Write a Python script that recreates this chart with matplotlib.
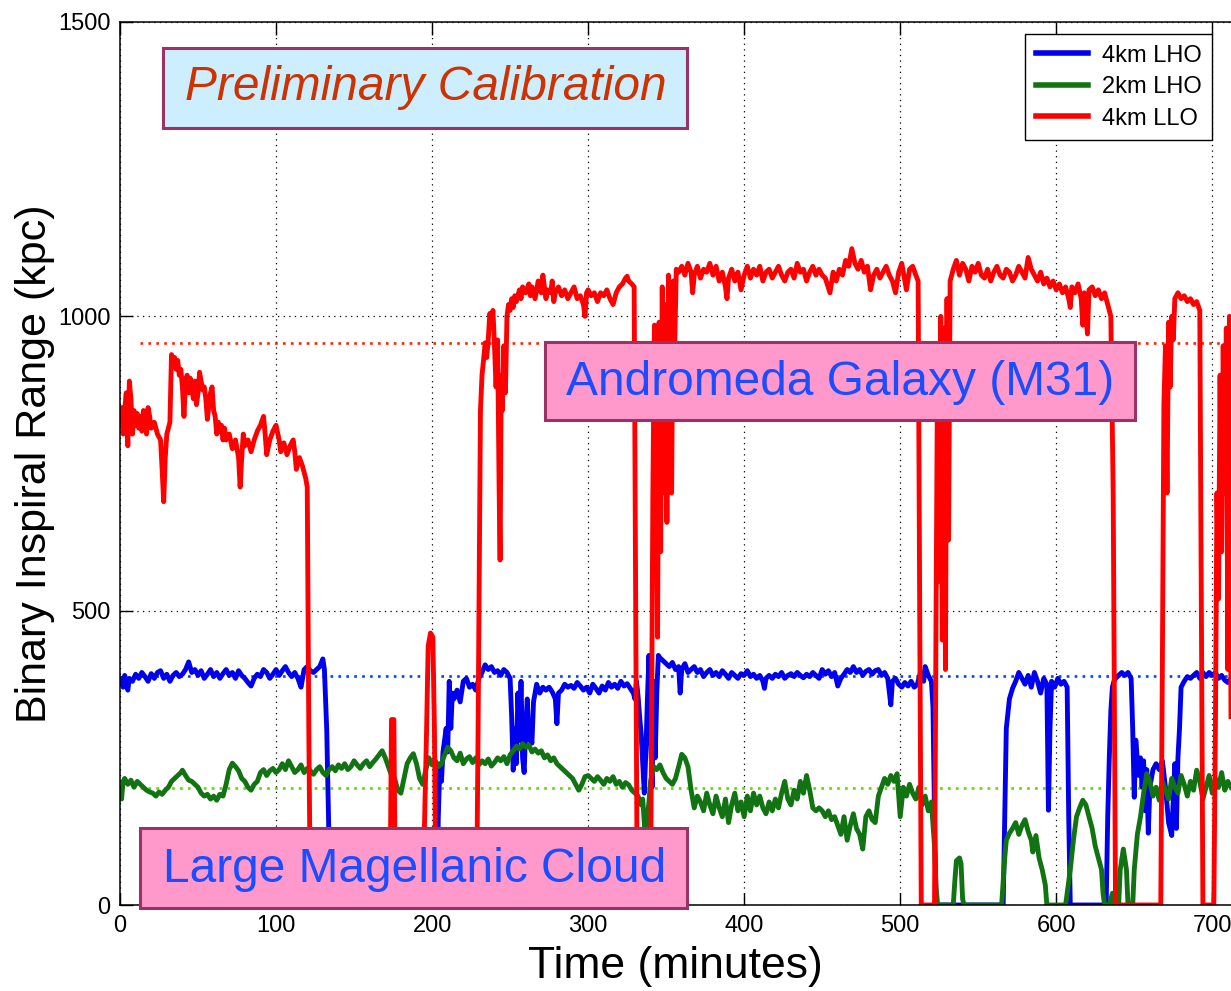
import matplotlib
matplotlib.use("Agg")
import matplotlib.pyplot as plt
from matplotlib.patches import Rectangle
import numpy as np

plt.rcParams['font.family'] = ['Liberation Sans', 'DejaVu Sans']

# ---- data: time (min) and range (kpc) ----
t_lho4 = [0, 1, 2, 3, 4, 5, 6, 8, 10, 12, 14, 16, 18, 20, 22, 24, 26, 28, 30, 32, 34, 36, 38, 40,
          42, 44, 46, 48, 50, 52, 54, 56, 58, 60, 62, 64, 66, 68, 70, 72, 74, 76, 78, 80, 82, 84,
          86, 88, 90, 92, 94, 96, 98, 100, 102, 104, 106, 108, 110, 112, 114, 116, 118, 120, 122,
          124, 126, 128, 130, 131, 132.5, 134, 135, 203, 204, 205, 206, 207, 208, 209, 210, 211,
          212, 213, 214, 216, 218, 220, 222, 224, 226, 228, 230, 232, 234, 236, 238, 240, 242, 244,
          246, 248, 250, 251, 252, 253, 254, 255, 256, 257, 258, 259, 260, 261, 262, 263, 264, 265,
          267, 269, 271, 273, 275, 277, 279, 280, 281, 283, 285, 287, 289, 291, 293, 295, 297, 299,
          301, 303, 305, 307, 309, 311, 313, 315, 317, 319, 321, 323, 325, 327, 329, 330, 331, 332,
          333, 334, 335, 336, 337, 338, 339, 340, 341, 342, 343, 344, 345, 346, 348, 350, 352, 354,
          356, 358, 359, 360, 362, 364, 366, 368, 370, 372, 374, 376, 378, 380, 382, 384, 386, 388,
          390, 392, 394, 396, 398, 400, 402, 404, 406, 408, 410, 412, 413, 414, 416, 418, 420, 422,
          424, 426, 428, 430, 432, 434, 436, 438, 440, 442, 444, 446, 448, 450, 452, 454, 456, 458,
          460, 462, 464, 466, 468, 470, 472, 474, 476, 478, 480, 482, 484, 486, 488, 490, 492, 494,
          495, 497, 499, 501, 503, 505, 507, 509, 511, 513, 515, 516, 518, 520, 521, 522, 523, 566,
          567, 568, 570, 572, 574, 576, 578, 580, 582, 584, 586, 588, 590, 592, 594, 595, 596, 597,
          599, 601, 603, 605, 607, 608, 609, 632, 633, 634, 635, 636, 637, 638, 640, 642, 644, 646,
          648, 649, 650, 651, 652, 653, 654, 655, 656, 657, 658, 659, 660, 662, 664, 666, 668, 670,
          672, 674, 676, 677, 678, 679, 680, 682, 684, 686, 688, 690, 692, 694, 696, 698, 700, 702,
          704, 706, 708, 710, 712]
r_lho4 = [375, 385, 370, 390, 380, 365, 385, 380, 392, 385, 395, 388, 380, 393, 385, 395, 398, 385,
          392, 380, 390, 395, 388, 392, 400, 413, 395, 400, 390, 398, 385, 392, 400, 388, 395, 385,
          393, 400, 390, 395, 385, 398, 390, 385, 378, 372, 385, 392, 388, 400, 395, 385, 392, 400,
          390, 398, 405, 395, 388, 395, 385, 370, 400, 405, 398, 395, 400, 405, 418, 400, 297, 100,
          0, 0, 150, 240, 210, 260, 280, 300, 260, 380, 300, 360, 350, 365, 345, 380, 385, 370, 375,
          365, 385, 395, 408, 400, 405, 395, 398, 390, 400, 395, 385, 320, 229, 300, 240, 360, 280,
          380, 250, 225, 300, 350, 280, 290, 275, 345, 375, 360, 370, 365, 370, 362, 350, 308, 360,
          365, 375, 370, 373, 368, 378, 372, 365, 370, 360, 375, 368, 360, 372, 365, 378, 370, 375,
          368, 380, 372, 376, 368, 360, 350, 380, 355, 320, 290, 240, 190, 260, 350, 424, 300, 200,
          380, 250, 360, 424, 420, 415, 410, 405, 412, 400, 405, 360, 400, 410, 395, 400, 405, 395,
          400, 388, 395, 400, 390, 395, 388, 398, 392, 385, 395, 390, 385, 393, 390, 398, 388, 392,
          385, 390, 380, 368, 385, 390, 385, 392, 388, 395, 385, 390, 393, 388, 395, 390, 386, 392,
          388, 395, 390, 385, 400, 392, 398, 388, 395, 372, 385, 392, 400, 395, 405, 395, 400, 390,
          397, 400, 392, 398, 400, 390, 395, 385, 340, 380, 385, 375, 370, 378, 372, 380, 370, 375,
          395, 380, 405, 390, 380, 337, 150, 0, 0, 150, 300, 350, 368, 380, 395, 385, 375, 390, 370,
          395, 380, 360, 385, 375, 161, 300, 380, 370, 385, 375, 380, 370, 150, 0, 0, 150, 250, 330,
          370, 380, 385, 390, 395, 390, 395, 385, 300, 183, 280, 246, 220, 250, 200, 245, 160, 230,
          122, 200, 230, 240, 230, 245, 200, 140, 118, 240, 130, 250, 300, 370, 380, 388, 385, 390,
          395, 385, 395, 388, 395, 390, 395, 385, 390, 382, 378, 385]

t_lho2 = [0, 1, 2, 3, 5, 7, 9, 11, 13, 15, 17, 19, 21, 23, 25, 27, 29, 31, 33, 35, 37, 39, 40, 42,
          44, 46, 48, 50, 52, 54, 56, 58, 60, 62, 64, 66, 68, 70, 72, 74, 76, 78, 80, 82, 84, 86,
          88, 90, 92, 94, 96, 98, 100, 102, 104, 106, 108, 110, 112, 114, 116, 118, 120, 122, 124,
          126, 128, 130, 132, 134, 136, 138, 140, 142, 144, 146, 148, 150, 152, 154, 156, 158, 160,
          162, 164, 166, 168, 170, 172, 174, 176, 178, 180, 182, 184, 186, 188, 190, 192, 194, 196,
          198, 200, 202, 204, 206, 208, 210, 212, 214, 216, 218, 220, 222, 224, 226, 228, 230, 232,
          234, 236, 238, 240, 242, 244, 246, 248, 250, 252, 254, 256, 258, 260, 262, 264, 266, 268,
          270, 272, 274, 276, 278, 280, 282, 284, 286, 288, 290, 292, 294, 296, 298, 300, 302, 304,
          306, 308, 310, 312, 314, 316, 318, 320, 322, 324, 326, 328, 330, 332, 334, 335, 336, 337,
          338, 339, 340, 342, 344, 346, 348, 350, 352, 354, 356, 358, 360, 362, 364, 366, 368, 370,
          372, 374, 376, 378, 380, 382, 384, 386, 388, 390, 392, 394, 396, 398, 400, 402, 404, 406,
          408, 410, 412, 414, 416, 418, 420, 422, 424, 426, 428, 430, 432, 434, 436, 438, 440, 442,
          444, 446, 448, 450, 452, 454, 456, 458, 460, 462, 464, 466, 468, 470, 472, 474, 476, 478,
          480, 482, 484, 486, 488, 490, 492, 494, 496, 498, 500, 502, 504, 506, 508, 510, 512, 514,
          516, 518, 520, 522, 523, 524, 534, 535, 536, 538, 539, 540, 541, 565, 566, 567, 568, 570,
          572, 574, 576, 578, 580, 582, 584, 585, 587, 589, 591, 593, 594, 606, 607, 609, 611, 613,
          615, 617, 619, 621, 623, 625, 627, 629, 630, 631, 634, 636, 637, 640, 641, 643, 645, 646,
          649, 650, 652, 654, 656, 658, 660, 662, 664, 666, 668, 670, 672, 674, 676, 678, 680, 682,
          684, 686, 688, 690, 692, 694, 696, 698, 700, 702, 704, 706, 708, 710, 712]
r_lho2 = [195, 180, 210, 215, 205, 212, 200, 210, 205, 200, 195, 192, 190, 185, 192, 188, 195, 200,
          210, 215, 220, 225, 229, 220, 212, 210, 205, 200, 190, 185, 188, 180, 185, 178, 188, 185,
          205, 230, 241, 235, 228, 215, 210, 200, 195, 205, 210, 225, 230, 220, 228, 232, 225, 230,
          240, 230, 245, 235, 225, 230, 238, 225, 232, 228, 222, 230, 235, 225, 220, 230, 235, 228,
          238, 232, 240, 230, 235, 245, 238, 232, 240, 245, 235, 242, 248, 255, 262, 250, 235, 220,
          215, 195, 190, 215, 240, 250, 257, 240, 215, 205, 230, 250, 238, 245, 235, 240, 255, 268,
          262, 250, 245, 258, 240, 248, 252, 242, 250, 238, 245, 240, 248, 236, 242, 250, 245, 252,
          240, 255, 262, 270, 265, 274, 268, 272, 260, 265, 258, 262, 250, 255, 245, 250, 240, 235,
          230, 225, 220, 215, 205, 195, 205, 218, 220, 215, 210, 218, 212, 205, 215, 210, 218, 205,
          210, 200, 208, 204, 195, 190, 185, 170, 180, 140, 100, 150, 175, 210, 235, 230, 238, 225,
          215, 210, 205, 215, 235, 256, 250, 235, 195, 165, 185, 175, 160, 190, 170, 155, 185, 165,
          150, 180, 140, 170, 190, 160, 175, 150, 185, 160, 190, 170, 185, 165, 155, 175, 160, 180,
          165, 190, 210, 180, 170, 195, 180, 210, 190, 220, 195, 165, 160, 165, 160, 150, 160, 145,
          150, 135, 120, 150, 110, 135, 155, 130, 120, 95, 150, 160, 145, 140, 185, 200, 215, 205,
          220, 210, 223, 150, 200, 185, 205, 190, 180, 200, 170, 185, 160, 175, 100, 30, 0, 0, 40,
          75, 80, 70, 10, 0, 0, 40, 80, 110, 122, 130, 140, 120, 135, 145, 125, 110, 90, 118, 80, 60,
          34, 0, 0, 20, 60, 110, 150, 165, 178, 170, 150, 130, 100, 80, 60, 20, 0, 0, 20, 0, 0, 60,
          95, 60, 0, 0, 60, 120, 150, 190, 223, 210, 185, 200, 178, 210, 195, 180, 215, 200, 190,
          220, 205, 185, 210, 195, 229, 210, 180, 200, 220, 190, 215, 200, 225, 195, 210, 200]

t_llo = [0, 1, 2, 3, 4, 5, 6, 7, 8, 9, 10, 11, 12, 13, 14, 15, 16, 17, 18, 19, 20, 22, 24, 26, 27,
         28, 29, 30, 31, 32, 33, 34, 35, 36, 37, 38, 39, 40, 41, 42, 43, 44, 45, 46, 47, 48, 49, 50,
         51, 52, 53, 54, 55, 56, 57, 58, 59, 60, 61, 62, 63, 64, 65, 66, 67, 68, 70, 72, 74, 76, 77,
         78, 79, 80, 82, 84, 86, 88, 90, 92, 93, 94, 96, 98, 100, 102, 103, 105, 107, 109, 111, 112,
         113, 115, 117, 119, 120, 121, 122, 173, 174, 175.5, 176.5, 194, 196.5, 197.5, 199, 200.5,
         201.5, 202.5, 228.5, 229.5, 230.5, 231, 232, 233, 234, 235, 236, 237, 238, 239, 240, 241,
         242, 243, 243.6, 244.3, 245, 246, 247, 248, 249, 250, 251, 252, 253, 254, 256, 257, 258,
         260, 262, 263, 264, 266, 268, 269, 270, 271, 272, 273, 274, 276, 277, 278, 279, 281, 283,
         285, 287, 289, 291, 293, 295, 297, 298, 299, 300, 302, 304, 306, 308, 310, 312, 314, 316,
         318, 320, 322, 324, 325, 326, 328, 329.5, 330.5, 331.5, 340, 341.5, 342.5, 343.5, 344.5,
         345.5, 346.5, 347.5, 348.5, 349.5, 350.5, 351.5, 352.5, 353.5, 354.5, 355.5, 356.5, 358,
         360, 362, 364, 366, 367, 368, 370, 372, 374, 376, 378, 380, 382, 384, 386, 388, 389, 390,
         392, 394, 396, 398, 400, 402, 404, 406, 408, 410, 412, 414, 416, 418, 420, 422, 424, 426,
         428, 430, 432, 434, 436, 438, 440, 442, 444, 446, 448, 450, 452, 455, 457, 459, 461, 463,
         465, 467, 469, 471, 473, 475, 477, 479, 481, 483, 485, 487, 489, 491, 493, 495, 497, 499,
         501, 503, 504, 506, 508, 510, 511.5, 512.5, 513.5, 522, 523, 524, 525, 526, 527, 528, 529,
         530, 531, 532, 534, 536, 538, 540, 542, 544, 546, 548, 550, 552, 554, 556, 558, 560, 562,
         564, 566, 568, 570, 572, 574, 576, 578, 580, 582, 584, 586, 588, 590, 592, 594, 596, 598,
         600, 602, 604, 606, 608, 609, 610, 612, 614, 616, 617, 618, 620, 621, 623, 625, 627, 629,
         631, 633, 635, 636.5, 638, 667, 668, 669, 670, 671, 672, 673, 674, 675, 676, 678, 680, 682,
         684, 686, 688, 690, 692, 693, 694, 701, 702, 703, 704, 705, 706, 707, 708, 709, 710, 711,
         712]
r_llo = [820, 845, 800, 840, 870, 780, 890, 860, 800, 840, 815, 835, 810, 830, 805, 840, 825, 800,
         845, 830, 810, 820, 800, 790, 740, 685, 760, 800, 810, 820, 935, 925, 930, 910, 925, 900,
         910, 880, 830, 890, 900, 870, 895, 880, 860, 890, 850, 870, 905, 890, 875, 880, 860, 825,
         850, 870, 880, 840, 830, 800, 820, 805, 815, 790, 810, 790, 800, 775, 790, 760, 710, 760,
         800, 780, 790, 770, 790, 805, 815, 830, 800, 765, 790, 805, 815, 790, 770, 785, 765, 780,
         790, 770, 740, 760, 745, 725, 710, 300, 0, 0, 315, 315, 0, 0, 300, 440, 462, 455, 300, 0,
         0, 300, 650, 840, 900, 926, 955, 930, 960, 1005, 990, 1010, 950, 880, 960, 700, 586, 900,
         840, 950, 870, 1000, 1020, 1010, 1030, 1015, 1035, 1025, 1045, 1030, 1050, 1040, 1055,
         1035, 1050, 1030, 1060, 1045, 1040, 1070, 1050, 1030, 1045, 1040, 1060, 1025, 1040, 1050,
         1035, 1045, 1030, 1040, 1050, 1030, 1035, 1020, 1000, 1040, 1045, 1035, 1040, 1025, 1040,
         1035, 1045, 1030, 1020, 1040, 1050, 1055, 1065, 1068, 1060, 1055, 1050, 500, 0, 0, 700,
         985, 960, 455, 990, 600, 1050, 700, 1020, 650, 1070, 840, 700, 1060, 950, 1080, 1075, 1085,
         1070, 1090, 1075, 1040, 1070, 1085, 1065, 1080, 1075, 1090, 1070, 1085, 1060, 1075, 1050,
         1030, 1065, 1080, 1060, 1075, 1045, 1070, 1085, 1065, 1080, 1070, 1085, 1060, 1075, 1080,
         1065, 1075, 1085, 1070, 1060, 1075, 1080, 1065, 1090, 1075, 1080, 1060, 1075, 1085, 1070,
         1080, 1070, 1065, 1040, 1075, 1060, 1080, 1070, 1095, 1085, 1115, 1090, 1080, 1095, 1075,
         1085, 1045, 1070, 1080, 1065, 1075, 1085, 1070, 1060, 1040, 1075, 1090, 1060, 1045, 1080,
         1085, 1070, 1060, 500, 0, 0, 500, 950, 550, 1000, 450, 980, 400, 1030, 620, 1060, 1080,
         1095, 1070, 1090, 1080, 1060, 1085, 1075, 1090, 1070, 1065, 1080, 1060, 1075, 1085, 1070,
         1065, 1080, 1075, 1060, 1070, 1085, 1075, 1065, 1100, 1080, 1070, 1060, 1075, 1055, 1065,
         1050, 1060, 1045, 1055, 1040, 1050, 1030, 1015, 1050, 1040, 1055, 1030, 985, 1040, 970,
         1045, 1050, 1035, 1045, 1030, 1040, 1020, 1000, 700, 0, 0, 400, 850, 950, 700, 990, 880,
         1000, 960, 1030, 1040, 1030, 1035, 1025, 1030, 1020, 1025, 1010, 500, 0, 0, 300, 700, 520,
         900, 600, 950, 700, 980, 400, 1000, 320]

# reference levels (dotted)
ref_t = [13, 712]
ref_llo = 955
ref_lho4 = 389
ref_lho2 = 199

series_labels = ['4km LHO', '2km LHO', '4km LLO']

fig = plt.figure(figsize=(12.31, 9.91), dpi=100)
ax = fig.add_axes([120 / 1231, 86 / 991, 1111 / 1231, 883 / 991])

# dotted grid
ax.grid(True, color='black', linestyle=(0, (1, 3.5)), linewidth=0.9)
ax.set_axisbelow(True)

# reference lines
ax.plot(ref_t, [ref_llo, ref_llo], color='#ff2200', linestyle=(0, (1, 2)), lw=1.9, zorder=1.5)
ax.plot(ref_t, [ref_lho4, ref_lho4], color='#0044ff', linestyle=(0, (1, 2)), lw=1.9, zorder=1.5)
ax.plot(ref_t, [ref_lho2, ref_lho2], color='#55dd00', linestyle=(0, (1, 2)), lw=1.9, zorder=1.5)

ax.plot(t_lho4, r_lho4, color='#0000ee', lw=3.5, label=series_labels[0], zorder=2)
ax.plot(t_lho2, r_lho2, color='#127312', lw=3.5, label=series_labels[1], zorder=2.1)
ax.plot(t_llo, r_llo, color='#ff0000', lw=3.5, label=series_labels[2], zorder=2.2)

ax.set_xlim(0, 712)
ax.set_ylim(0, 1500)
ax.set_xticks(np.arange(0, 701, 100))
ax.set_yticks([0, 500, 1000, 1500])
ax.tick_params(direction='in', length=9, width=1, labelsize=17, top=True, right=False, pad=7)
ax.spines['right'].set_visible(False)
for s in ['left', 'bottom', 'top']:
    ax.spines[s].set_linewidth(1.1)

ax.set_xlabel('Time (minutes)', fontsize=32, labelpad=7)
ax.set_ylabel('Binary Inspiral Range (kpc)', fontsize=31, labelpad=2)

leg = ax.legend(loc='upper left', bbox_to_anchor=(0.8146, 0.9864), fontsize=17,
                frameon=True, fancybox=False, edgecolor='black', framealpha=1,
                borderaxespad=0, handlelength=2.2, labelspacing=0.4, borderpad=0.45,
                handletextpad=0.6)
leg.get_frame().set_linewidth(1.0)
for ln in leg.get_lines():
    ln.set_linewidth(4)

# annotation boxes
def label_box(x0, x1, y0, y1, fc, text, color, style='normal', tx=None, ty=None):
    ax.add_patch(Rectangle((x0, y0), x1 - x0, y1 - y0, facecolor=fc, edgecolor='#993366',
                           linewidth=2.2, zorder=5, clip_on=False))
    ax.text(tx if tx is not None else (x0 + x1) / 2, ty if ty is not None else (y0 + y1) / 2,
            text, color=color, fontsize=34.5, style=style, ha='center', va='center', zorder=6)

label_box(27.6, 363.5, 1320, 1456, '#cceeff', 'Preliminary Calibration', '#cc3300',
          style='italic', tx=196, ty=1388)
label_box(272.4, 650.6, 824, 956, '#ff99cc', 'Andromeda Galaxy (M31)', '#1a4dff',
          tx=461.5, ty=887)
label_box(12.8, 363.5, -5, 131, '#ff99cc', 'Large Magellanic Cloud', '#1a4dff',
          tx=188.5, ty=61)

fig.savefig('out.png', dpi=100)
